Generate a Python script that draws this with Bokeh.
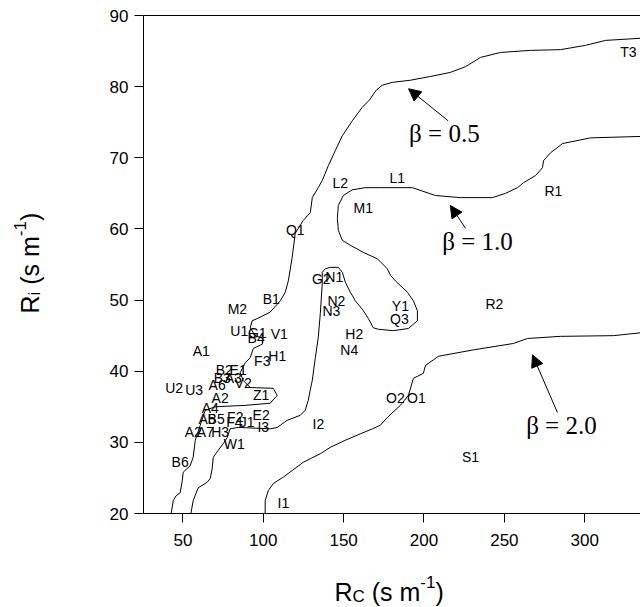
import numpy as np
from bokeh.plotting import figure
from bokeh.models import Range1d, Label, Arrow, NormalHead, ColumnDataSource, FixedTicker
from bokeh.core.properties import value
from bokeh.embed import file_html
from bokeh.resources import INLINE

# ---------------- data ----------------
beta05_x = [42.7, 44.0, 45.8, 48.3, 49.6, 50.2, 54.5, 56.4, 57.7, 60.8, 63.9, 70.1, 88.8, 104.3,
            108.7, 106.2, 91.9, 87.5, 85.7, 88.8, 91.9, 93.8, 99.4, 100.0, 95.0, 91.9, 93.1, 96.3,
            104.3, 110.6, 113.7, 115.6, 118.0, 119.9, 124.9, 129.3, 130.5, 134.2, 136.7, 140.5,
            144.8, 149.2, 155.4, 161.6, 166.0, 170.3, 174.0, 180.3, 191.5, 203.3, 216.4, 225.8,
            235.1, 247.5, 266.2, 284.9, 300.5, 312.9, 334.7]
beta05_y = [20.0, 21.8, 22.5, 22.9, 24.6, 25.8, 26.7, 27.9, 30.3, 32.4, 34.5, 35.0, 35.2, 35.5,
            36.6, 37.6, 37.7, 38.7, 39.8, 41.2, 41.9, 43.2, 43.8, 44.6, 45.0, 46.1, 47.1, 47.4,
            48.3, 49.9, 51.1, 52.7, 56.0, 59.4, 61.2, 62.3, 64.4, 65.8, 66.8, 68.9,
            71.0, 73.1, 75.2, 77.1, 78.1, 79.5, 80.2, 80.6, 80.9, 81.4, 82.0, 82.8,
            84.1, 84.8, 85.1, 85.2, 85.8, 86.5, 86.8]

beta10_x = [55.0, 56.4, 59.5, 65.1, 67.0, 68.2, 68.9, 72.0, 75.1, 77.6, 79.4, 84.4, 104.3, 108.7,
            114.9, 123.0, 126.1, 128.0, 129.2, 130.5, 132.4, 134.2, 135.5, 136.7, 136.7, 138.6,
            141.7, 146.7, 149.2, 151.1, 154.2, 157.3, 162.3, 165.4, 168.5, 171.6, 180.9, 190.3,
            195.9, 195.9, 193.4, 189.7, 182.2, 179.1, 177.2, 171.0, 162.3, 154.2, 149.2, 146.7,
            146.1, 146.7, 149.8, 155.4, 163.5, 172.8, 192.8, 207.1, 222.6, 242.6, 250.7, 258.2,
            261.9, 269.4, 273.7, 274.4, 278.7, 286.2, 303.6, 334.7]
beta10_y = [20.0, 21.8, 23.6, 24.4, 24.9, 26.3, 27.9, 28.9, 29.8, 30.7, 31.9, 32.1, 31.9, 32.1,
            33.1, 33.8, 34.5, 35.9, 37.3, 38.7, 41.9, 44.7, 48.1, 52.3, 53.9, 54.4,
            54.6, 54.6, 53.9, 52.5, 51.1, 49.9, 48.5, 47.4, 46.1, 45.9, 45.7, 46.0,
            47.1, 48.5, 49.9, 51.1, 52.7, 53.5, 54.4, 55.8, 56.7, 57.7, 58.4, 59.8,
            61.5, 63.3, 64.7, 65.5, 65.8, 65.8, 65.8, 64.7, 64.4, 64.4, 65.0, 65.8,
            66.5, 67.5, 68.6, 69.6, 70.7, 72.0, 72.8, 73.0]

beta20_x = [101.2, 101.2, 103.1, 106.2, 112.4, 124.9, 129.3, 135.5, 141.7, 151.1, 160.4, 167.9,
            172.8, 177.2, 185.3, 190.3, 193.4, 199.6, 200.9, 209.0, 230.8, 255.7, 264.4, 284.9,
            317.9, 334.7]
beta20_y = [20.0, 21.8, 23.2, 24.2, 25.1, 27.2, 27.7, 28.4, 29.3, 30.3, 31.2, 31.9,
            32.4, 33.5, 35.2, 36.6, 39.0, 39.7, 40.8, 42.1, 43.0, 43.9, 44.6, 44.9,
            45.0, 45.4]

site_names = ["T3", "L2", "L1", "M1", "R1", "Q1", "G2", "N1", "N2", "N3", "Y1", "Q3", "R2",
              "H2", "N4", "M2", "B1", "U1", "G1", "B4", "V1", "A1", "H1", "F3", "B2", "E1",
              "B3", "A3", "A6", "V2", "U2", "U3", "A2", "Z1", "A4", "A5", "B5", "F2", "E2",
              "F4", "J1", "I3", "A2", "A7", "H3", "I1", "I2", "O2", "O1", "S1", "W1", "B6"]
site_rc = [327.2, 147.9, 183.4, 162.2, 280.5, 119.9, 136.1, 144.2, 145.5, 142.4, 185.3, 184.7,
           243.8, 156.6, 153.5, 83.9, 105.0, 85.1, 96.3, 95.6, 110.0, 61.4, 108.7, 99.4, 75.7,
           84.4, 74.5, 81.3, 71.3, 87.5, 44.6, 57.0, 73.2, 98.7, 67.0, 65.1, 70.7, 82.6, 98.7,
           82.0, 90.0, 100.0, 56.5, 64.0, 73.2, 112.5, 134.3, 182.2, 195.3, 228.9, 82.0, 48.3]
site_ri = [84.8, 66.4, 67.1, 63.0, 65.4, 59.9, 52.9, 53.2, 49.9, 48.4, 49.1, 47.4, 49.5,
           45.3, 43.0, 48.7, 50.1, 45.6, 45.4, 44.6, 45.3, 42.9, 42.2, 41.4, 40.2,
           40.2, 39.1, 39.1, 38.0, 38.3, 37.7, 37.3, 36.3, 36.7, 34.8, 33.3, 33.3, 33.5, 33.8,
           32.8, 32.8, 32.2, 31.4, 31.4, 31.4, 21.5, 32.6, 36.3, 36.3, 28.0, 29.7, 27.3]

beta_text = ["\u03b2 = 0.5", "\u03b2 = 1.0", "\u03b2 = 2.0"]
beta_text_x = [212.7, 233.3, 285.5]
beta_text_y = [73.4, 58.2, 32.3]
arrow_x0 = [215.0, 225.8, 283.0]
arrow_y0 = [75.2, 60.1, 34.2]
arrow_x1 = [190.4, 216.4, 267.5]
arrow_y1 = [79.7, 63.3, 42.3]

x_ticks = [50, 100, 150, 200, 250, 300]
y_ticks = [20, 30, 40, 50, 60, 70, 80, 90]
x_lo, x_hi = 25.5, 334.7
y_lo, y_hi = 20, 90

# ---------------- layout geometry (pixels) ----------------
W, H = 640, 607
AX_LEFT, AX_RIGHT, AX_TOP, AX_BOTTOM = 143, 640, 15, 513   # data box on the canvas
sx = (AX_RIGHT - AX_LEFT) / (x_hi - x_lo)
sy = (AX_BOTTOM - AX_TOP) / (y_hi - y_lo)
xr = Range1d(x_lo - AX_LEFT / sx, x_hi + (W - AX_RIGHT) / sx)
yr = Range1d(y_lo - (H - AX_BOTTOM) / sy, y_hi + AX_TOP / sy)

p = figure(width=W, height=H, output_backend="svg", toolbar_location=None,
           x_range=xr, y_range=yr, min_border=0)
p.outline_line_color = None
p.xgrid.grid_line_color = None
p.ygrid.grid_line_color = None
p.background_fill_color = "white"
p.border_fill_color = "white"

for ax in (p.xaxis, p.yaxis):
    ax.axis_line_color = "black"
    ax.axis_line_width = 1
    ax.major_tick_line_color = "black"
    ax.major_tick_out = 9
    ax.major_tick_in = 0
    ax.minor_tick_out = 0
    ax.minor_tick_in = 0
    ax.major_label_text_font = "Liberation Sans"
    ax.major_label_text_font_size = "17px"
    ax.major_label_text_color = "black"
p.xaxis.ticker = FixedTicker(ticks=x_ticks)
p.yaxis.ticker = FixedTicker(ticks=y_ticks)
p.xaxis.fixed_location = y_lo
p.yaxis.fixed_location = x_lo
p.xaxis.bounds = (x_lo, x_hi)
p.yaxis.bounds = (y_lo, y_hi)
p.xaxis.major_label_standoff = 11
p.yaxis.major_label_standoff = 6

# top border of the data box
p.segment(x0=[x_lo], y0=[y_hi], x1=[x_hi], y1=[y_hi], line_color="black", line_width=1)

for xs, ys in ((beta05_x, beta05_y), (beta10_x, beta10_y), (beta20_x, beta20_y)):
    p.line(xs, ys, line_color="black", line_width=1)

src = ColumnDataSource(dict(x=site_rc, y=site_ri, t=site_names))
p.text(x="x", y="y", text="t", source=src, text_font=value("Liberation Sans"),
       text_font_size=value("14px"), text_align="center", text_baseline="middle",
       text_color="black")

for t, tx, ty, x0, y0, x1, y1 in zip(beta_text, beta_text_x, beta_text_y,
                                     arrow_x0, arrow_y0, arrow_x1, arrow_y1):
    p.add_layout(Label(x=tx, y=ty, text=t, text_font="Liberation Serif",
                       text_font_size="25px", text_align="center", text_baseline="middle",
                       text_color="black"))
    p.add_layout(Arrow(end=NormalHead(size=12, fill_color="black", line_color="black"),
                       x_start=x0, y_start=y0, x_end=x1, y_end=y1,
                       line_color="black", line_width=1))

# composed axis titles (with sub/superscripts), screen units from bottom-left
ADV = {"R": .722, "C": .722, "i": .222, " ": .278, "\u00a0": .278, "(": .333, ")": .333,
       "s": .5, "m": .833, "-": .333, "1": .556}

def compose(pieces, x0, y0, vertical):
    pos = 0.0
    for txt, size, shift in pieces:
        if vertical:
            x, y, ang = x0 - shift, y0 + pos, np.pi / 2
        else:
            x, y, ang = x0 + pos, y0 + shift, 0
        p.add_layout(Label(x=x, y=y, x_units="screen", y_units="screen", text=txt,
                           angle=ang, text_font="Liberation Sans",
                           text_font_size=f"{size}px", text_align="left",
                           text_baseline="alphabetic", text_color="black"))
        pos += sum(ADV[c] for c in txt) * size

big, small = 25, 17
NB = "\u00a0"
xl = [("R", big, 0), ("C", small, -5), (NB + "(s" + NB + "m", big, 0), ("-1", small, 10), (")", big, 0)]
yl = [("R", big, 0), ("i", small, -5), (NB + "(s" + NB + "m", big, 0), ("-1", small, 10), (")", big, 0)]
compose(xl, 334, H - 591, False)
compose(yl, 29, H - 313, True)

open("out.html", "w").write(file_html(p, INLINE))
